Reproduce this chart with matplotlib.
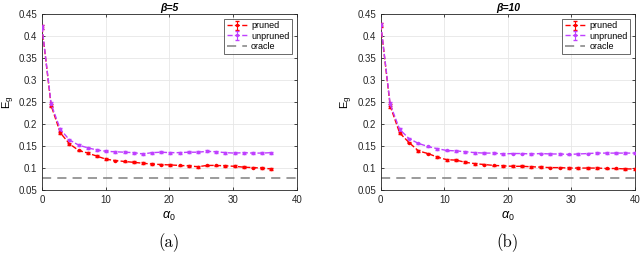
import matplotlib
matplotlib.use("Agg")
import matplotlib.pyplot as plt

plt.rcParams['font.family'] = ['Liberation Sans', 'DejaVu Sans']
plt.rcParams['mathtext.fontset'] = 'custom'
plt.rcParams['mathtext.rm'] = 'Liberation Sans'
plt.rcParams['mathtext.it'] = 'Liberation Sans:italic'
plt.rcParams['mathtext.bf'] = 'Liberation Sans:bold'

# beta = 5
alpha_a = [0, 1.44, 2.88, 4.32, 5.76, 7.2, 8.64, 10.08, 11.52, 12.96, 14.4, 15.84, 17.28,
           18.72, 20.16, 21.6, 23.04, 24.48, 25.92, 27.36, 28.8, 30.24, 31.68, 33.12, 34.56, 36.0]
pruned_a = [0.420, 0.242, 0.180, 0.155, 0.140, 0.134, 0.127, 0.120, 0.117, 0.115, 0.113, 0.111, 0.109,
            0.108, 0.107, 0.106, 0.105, 0.103, 0.106, 0.106, 0.105, 0.104, 0.102, 0.101, 0.100, 0.098]
unpruned_a = [0.421, 0.245, 0.188, 0.164, 0.152, 0.146, 0.141, 0.138, 0.137, 0.136, 0.135, 0.132, 0.135,
              0.136, 0.135, 0.135, 0.136, 0.136, 0.138, 0.137, 0.135, 0.134, 0.135, 0.134, 0.134, 0.135]
err_a_p = [0.004, 0.003, 0.003, 0.002, 0.002, 0.002, 0.002, 0.002, 0.002, 0.002, 0.002, 0.002, 0.002,
           0.002, 0.002, 0.002, 0.002, 0.002, 0.002, 0.002, 0.002, 0.002, 0.002, 0.002, 0.002, 0.002]
err_a_u = [0.004, 0.004, 0.003, 0.002, 0.002, 0.002, 0.002, 0.002, 0.002, 0.002, 0.002, 0.002, 0.002,
           0.002, 0.002, 0.002, 0.002, 0.002, 0.002, 0.002, 0.002, 0.002, 0.002, 0.002, 0.002, 0.002]

# beta = 10
alpha_b = [0, 1.48, 2.96, 4.44, 5.93, 7.41, 8.89, 10.37, 11.85, 13.33, 14.81, 16.3, 17.78, 19.26,
           20.74, 22.22, 23.7, 25.19, 26.67, 28.15, 29.63, 31.11, 32.59, 34.07, 35.56, 37.04, 38.52, 40.0]
pruned_b = [0.425, 0.241, 0.180, 0.158, 0.139, 0.133, 0.125, 0.119, 0.118, 0.113, 0.110, 0.108, 0.106, 0.105,
            0.104, 0.104, 0.103, 0.102, 0.101, 0.101, 0.100, 0.100, 0.100, 0.100, 0.099, 0.099, 0.098, 0.098]
unpruned_b = [0.426, 0.245, 0.188, 0.167, 0.156, 0.149, 0.144, 0.140, 0.139, 0.137, 0.135, 0.134, 0.134, 0.132,
              0.133, 0.133, 0.132, 0.133, 0.132, 0.132, 0.131, 0.132, 0.133, 0.134, 0.134, 0.134, 0.134, 0.134]
err_b = [0.004, 0.004, 0.003, 0.002, 0.002, 0.002, 0.002, 0.002, 0.002, 0.002, 0.002, 0.002, 0.002, 0.002,
         0.002, 0.002, 0.002, 0.002, 0.002, 0.002, 0.002, 0.002, 0.002, 0.002, 0.002, 0.002, 0.002, 0.002]

oracle = [0.078, 0.078]
oracle_x = [0, 40]

red = '#ff0000'
purple = '#bf40ff'

fig = plt.figure(figsize=(6.4, 2.6), dpi=100)
ax_a = fig.add_axes([0.0656, 0.269, 0.398, 0.677])
ax_b = fig.add_axes([0.595, 0.269, 0.397, 0.677])

panels = [
    (ax_a, alpha_a, pruned_a, unpruned_a, err_a_p, err_a_u, 'β=5', '(a)'),
    (ax_b, alpha_b, pruned_b, unpruned_b, err_b, err_b, 'β=10', '(b)'),
]

for ax, x, p, u, ep, eu, title, tag in panels:
    h1 = ax.errorbar(x, p, yerr=ep, color=red, linestyle='--', marker='.', markersize=3,
                     linewidth=1.0, capsize=1.5, elinewidth=0.8, label='pruned', zorder=3)
    h2 = ax.errorbar(x, u, yerr=eu, color=purple, linestyle='--', marker='.', markersize=3,
                     linewidth=1.0, capsize=1.5, elinewidth=0.8, label='unpruned', zorder=3)
    h3, = ax.plot(oracle_x, oracle, color='#808080', linestyle=(0, (6, 4)), linewidth=1.1, label='oracle')

    ax.set_xlim(0, 40)
    ax.set_ylim(0.05, 0.45)
    ax.set_xticks([0, 10, 20, 30, 40])
    ax.set_yticks([0.05, 0.1, 0.15, 0.2, 0.25, 0.3, 0.35, 0.4, 0.45])
    ax.set_yticklabels(['0.05', '0.1', '0.15', '0.2', '0.25', '0.3', '0.35', '0.4', '0.45'])
    ax.tick_params(direction='in', top=True, right=True, labelsize=7, length=2.5,
                   width=0.6, color='#262626', labelcolor='#262626')
    ax.grid(True, color='#e6e6e6', linewidth=0.6)
    ax.set_axisbelow(True)
    for s in ax.spines.values():
        s.set_linewidth(0.6)
        s.set_color('#262626')

    ax.set_title(title, fontsize=7.5, fontweight='bold', style='italic', pad=2)
    ax.set_xlabel(r'$\alpha_0$', fontsize=9)
    ax.xaxis.set_label_coords(0.5, -0.11)
    ax.set_ylabel(r'E$_\mathrm{g}$', fontsize=8)
    ax.yaxis.set_label_coords(-0.10, 0.5)

    leg = ax.legend([h1, h2, h3], ['pruned', 'unpruned', 'oracle'], loc='upper right',
                    fontsize=6.5, frameon=True, fancybox=False, borderpad=0.3,
                    labelspacing=0.15, handlelength=2.2, handletextpad=0.5, borderaxespad=0.5)
    leg.get_frame().set_edgecolor('#262626')
    leg.get_frame().set_linewidth(0.6)

    ax.text(0.5, -0.30, tag, transform=ax.transAxes, ha='center', va='center',
            fontsize=12, family='cmr10')

fig.savefig('out.png', dpi=100)
